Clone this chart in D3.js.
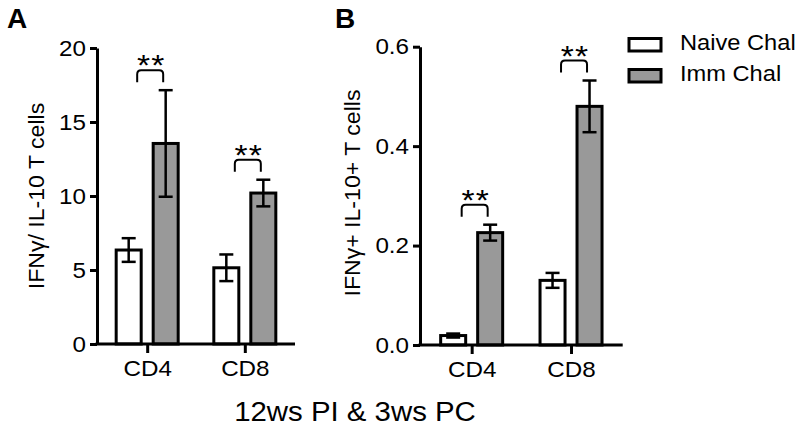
<!DOCTYPE html>
<html><head><meta charset="utf-8">
<script src="https://cdn.jsdelivr.net/npm/d3@7/dist/d3.min.js"></script>
<style>
body{margin:0;background:#fff;}
svg text{font-family:"Liberation Sans",Arial,sans-serif;fill:#000;}
</style></head>
<body><svg id="c" width="800" height="428"></svg>
<script>
const groups = ["CD4","CD8"];
const series = ["Naive Chal","Imm Chal"];
const seriesFill = ["#ffffff","#999999"];
// Panel A: IFNγ/ IL-10 T cells
const aNaive = [6.35, 5.15];
const aNaiveErr = [0.8, 0.9];
const aImm = [13.55, 10.2];
const aImmErr = [3.6, 0.9];
const aTicks = [0,5,10,15,20];
// Panel B: IFNγ+ IL-10+ T cells
const bNaive = [0.019, 0.130];
const bNaiveErr = [0.004, 0.015];
const bImm = [0.226, 0.480];
const bImmErr = [0.016, 0.052];
const bTicks = [0.0,0.2,0.4,0.6];
const sigLabels = ["**","**"];

const svg = d3.select("#c");
const SX = 1.1;

function stext(parent, x, y, size, str, anchor, rot, sx){
  const t = parent.append("g").attr("transform",`translate(${x},${y})${rot?` rotate(${rot})`:""} scale(${sx||SX},1)`)
    .append("text").attr("font-size",size).attr("text-anchor",anchor||"start").text(str);
  return t;
}

function panel(opt){
  const g = svg.append("g");
  const y = d3.scaleLinear().domain(opt.domain).range([opt.y0, opt.y1]);
  const x = d3.scalePoint().domain(groups).range([opt.x0, opt.x1]).padding(opt.pad);
  const xs = d3.scaleBand().domain(series).range([-31,31]).paddingInner(0.324);
  // y axis
  const ya = g.append("g").attr("transform",`translate(${opt.x0},0)`)
    .call(d3.axisLeft(y).tickValues(opt.ticks).tickFormat(opt.fmt).tickSize(7).tickSizeOuter(0).tickPadding(3));
  ya.select(".domain").attr("stroke","#000").attr("stroke-width",3);
  ya.selectAll(".tick line").attr("stroke","#000").attr("stroke-width",3);
  ya.selectAll(".tick text").attr("font-size",22).attr("font-family","Liberation Sans, Arial, sans-serif")
    .attr("fill","#000").attr("transform",`scale(${SX},1)`);

  const data = [];
  groups.forEach((gname,i)=>{
    data.push({g:gname,s:series[0],v:opt.naive[i],e:opt.naiveErr[i],f:seriesFill[0]});
    data.push({g:gname,s:series[1],v:opt.imm[i],e:opt.immErr[i],f:seriesFill[1]});
  });
  const bw = xs.bandwidth();
  g.selectAll("rect.bar").data(data).enter().append("rect")
    .attr("x",d=>x(d.g)+xs(d.s)).attr("width",bw)
    .attr("y",d=>y(d.v)).attr("height",d=>y(0)-y(d.v))
    .attr("fill",d=>d.f).attr("stroke","#000").attr("stroke-width",3);
  // error bars
  const eb = g.selectAll("g.eb").data(data).enter().append("g");
  eb.append("line").attr("x1",d=>x(d.g)+xs(d.s)+bw/2).attr("x2",d=>x(d.g)+xs(d.s)+bw/2)
    .attr("y1",d=>y(d.v-d.e)).attr("y2",d=>y(d.v+d.e)).attr("stroke","#000").attr("stroke-width",2.5);
  [1,-1].forEach(sg=>{
    eb.append("line").attr("x1",d=>x(d.g)+xs(d.s)+bw/2-7).attr("x2",d=>x(d.g)+xs(d.s)+bw/2+7)
      .attr("y1",d=>y(d.v+sg*d.e)).attr("y2",d=>y(d.v+sg*d.e)).attr("stroke","#000").attr("stroke-width",2.5);
  });
  // x axis
  const xa = g.append("g").attr("transform",`translate(0,${opt.y0})`)
    .call(d3.axisBottom(x).tickSize(9).tickSizeOuter(0).tickPadding(7));
  xa.select(".domain").attr("stroke","#000").attr("stroke-width",3).attr("d",`M${opt.x0-1.5},0H${opt.x1}`);
  xa.selectAll(".tick line").attr("stroke","#000").attr("stroke-width",3);
  xa.selectAll(".tick text").attr("font-size",22).attr("font-family","Liberation Sans, Arial, sans-serif")
    .attr("fill","#000").attr("transform",`scale(${SX},1)`);
  // significance brackets
  groups.forEach((gname,i)=>{
    const top = y(opt.imm[i]+opt.immErr[i]) - 20;
    const xl = x(gname)-10, xr = x(gname)+16, r=4;
    g.append("path").attr("d",`M${xl},${top+12}V${top+r}Q${xl},${top} ${xl+r},${top}H${xr-r}Q${xr},${top} ${xr},${top+r}V${top+12}`)
      .attr("fill","none").attr("stroke","#000").attr("stroke-width",2);
    stext(g,(xl+xr)/2+1,top+5,30,sigLabels[i],"middle",0,1.12).attr("letter-spacing",1);
  });
  // y title
  stext(g,opt.titleX,opt.titleY,22,opt.title,"middle",-90,1.05);
  // panel letter
  svg.append("text").attr("x",opt.letterX).attr("y",28).attr("font-size",28).attr("font-weight","bold").text(opt.letter);
}

panel({domain:[0,20],y0:344,y1:48,x0:97,x1:295,pad:0.514,ticks:aTicks,fmt:d3.format("d"),
  naive:aNaive,naiveErr:aNaiveErr,imm:aImm,immErr:aImmErr,title:"IFNγ/ IL-10 T cells",titleX:44,titleY:196,letter:"A",letterX:7});
panel({domain:[0,0.6],y0:345,y1:46.7,x0:420,x1:622.7,pad:0.52,ticks:bTicks,fmt:d3.format(".1f"),
  naive:bNaive,naiveErr:bNaiveErr,imm:bImm,immErr:bImmErr,title:"IFNγ+ IL-10+ T cells",titleX:360,titleY:193,letter:"B",letterX:335});

// legend
const lg = svg.append("g");
series.forEach((s,i)=>{
  lg.append("rect").attr("x",629).attr("y",38.5+i*31).attr("width",32).attr("height",12.5)
    .attr("fill",seriesFill[i]).attr("stroke","#000").attr("stroke-width",3);
  stext(lg,680,50+i*31,21.5,s,"start",0,1.1);
});
// common x title
stext(svg,355,421,28,"12ws PI & 3ws PC","middle",0,1.05);
</script></body></html>
